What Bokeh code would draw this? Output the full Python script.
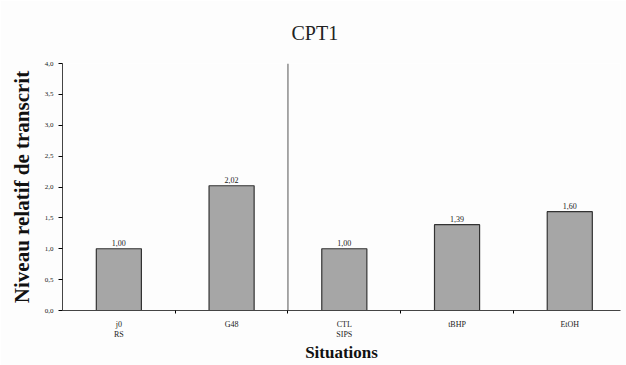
from bokeh.plotting import figure
from bokeh.models import ColumnDataSource, FixedTicker, Span, CustomJSTickFormatter, Range1d
from bokeh.embed import file_html
from bokeh.resources import INLINE

categories = ["j0\nRS", "G48", "CTL\nSIPS", "tBHP", "EtOH"]
values = [1.00, 2.02, 1.00, 1.39, 1.60]
value_labels = ["1,00", "2,02", "1,00", "1,39", "1,60"]
y_ticks = [0.0, 0.5, 1.0, 1.5, 2.0, 2.5, 3.0, 3.5, 4.0]

xs = list(range(len(categories)))
src = ColumnDataSource(dict(x=xs, top=values, lab=value_labels))

FONT = "Liberation Serif"

p = figure(width=626, height=365, output_backend="svg", toolbar_location=None,
           x_range=Range1d(-0.5, 4.45), y_range=Range1d(0, 4.0),
           min_border_left=62, min_border_right=6, min_border_top=61, min_border_bottom=52,
           title="CPT1")
p.background_fill_color = "#fdfdfd"
p.border_fill_color = "#fdfdfd"
p.outline_line_color = None
p.grid.visible = False

p.title.text_font = FONT
p.title.text_font_size = "20px"
p.title.text_font_style = "normal"
p.title.align = "left"
p.title.offset = 229
p.title.standoff = 39
p.title.text_color = "#222222"

p.vbar(x="x", top="top", width=0.4, source=src, fill_color="#a6a6a6",
       line_color="#333333", line_width=1.2)
p.text(x="x", y="top", text="lab", source=src, text_align="center",
       text_baseline="bottom", y_offset=-3, text_font_size="8px",
       text_font={"value": FONT}, text_color="#222222")

p.add_layout(Span(location=1.5, dimension="height", line_color="#555555", line_width=1))

# x axis
p.xaxis.ticker = FixedTicker(ticks=xs, minor_ticks=[0.5, 1.5, 2.5, 3.5])
p.xaxis.major_label_overrides = {i: c for i, c in enumerate(categories)}
p.xaxis.major_tick_in = 0
p.xaxis.major_tick_out = 0
p.xaxis.minor_tick_in = 0
p.xaxis.minor_tick_out = 3
p.xaxis.major_label_text_font = FONT
p.xaxis.major_label_text_font_size = "8px"
p.xaxis.major_label_text_color = "#222222"
p.xaxis.major_label_standoff = 6
p.xaxis.axis_label = "Situations"
p.xaxis.axis_label_text_font = FONT
p.xaxis.axis_label_text_font_size = "17px"
p.xaxis.axis_label_text_font_style = "bold"
p.xaxis.axis_label_text_color = "#111111"
p.xaxis.axis_label_standoff = 1
p.xaxis.axis_line_color = "#444444"

# y axis
p.yaxis.ticker = FixedTicker(ticks=y_ticks)
p.yaxis.formatter = CustomJSTickFormatter(code="return tick.toFixed(1).replace('.', ',');")
p.yaxis.major_tick_in = 0
p.yaxis.major_tick_out = 4
p.yaxis.minor_tick_out = 0
p.yaxis.major_label_text_font = FONT
p.yaxis.major_label_text_font_size = "7px"
p.yaxis.major_label_text_color = "#222222"
p.yaxis.axis_label = "Niveau relatif de transcrit"
p.yaxis.axis_label_text_font = FONT
p.yaxis.axis_label_text_font_size = "21px"
p.yaxis.axis_label_text_font_style = "bold"
p.yaxis.axis_label_text_color = "#111111"
p.yaxis.axis_label_standoff = 8
p.yaxis.axis_line_color = "#444444"

open("out.html", "w").write(file_html(p, INLINE))
